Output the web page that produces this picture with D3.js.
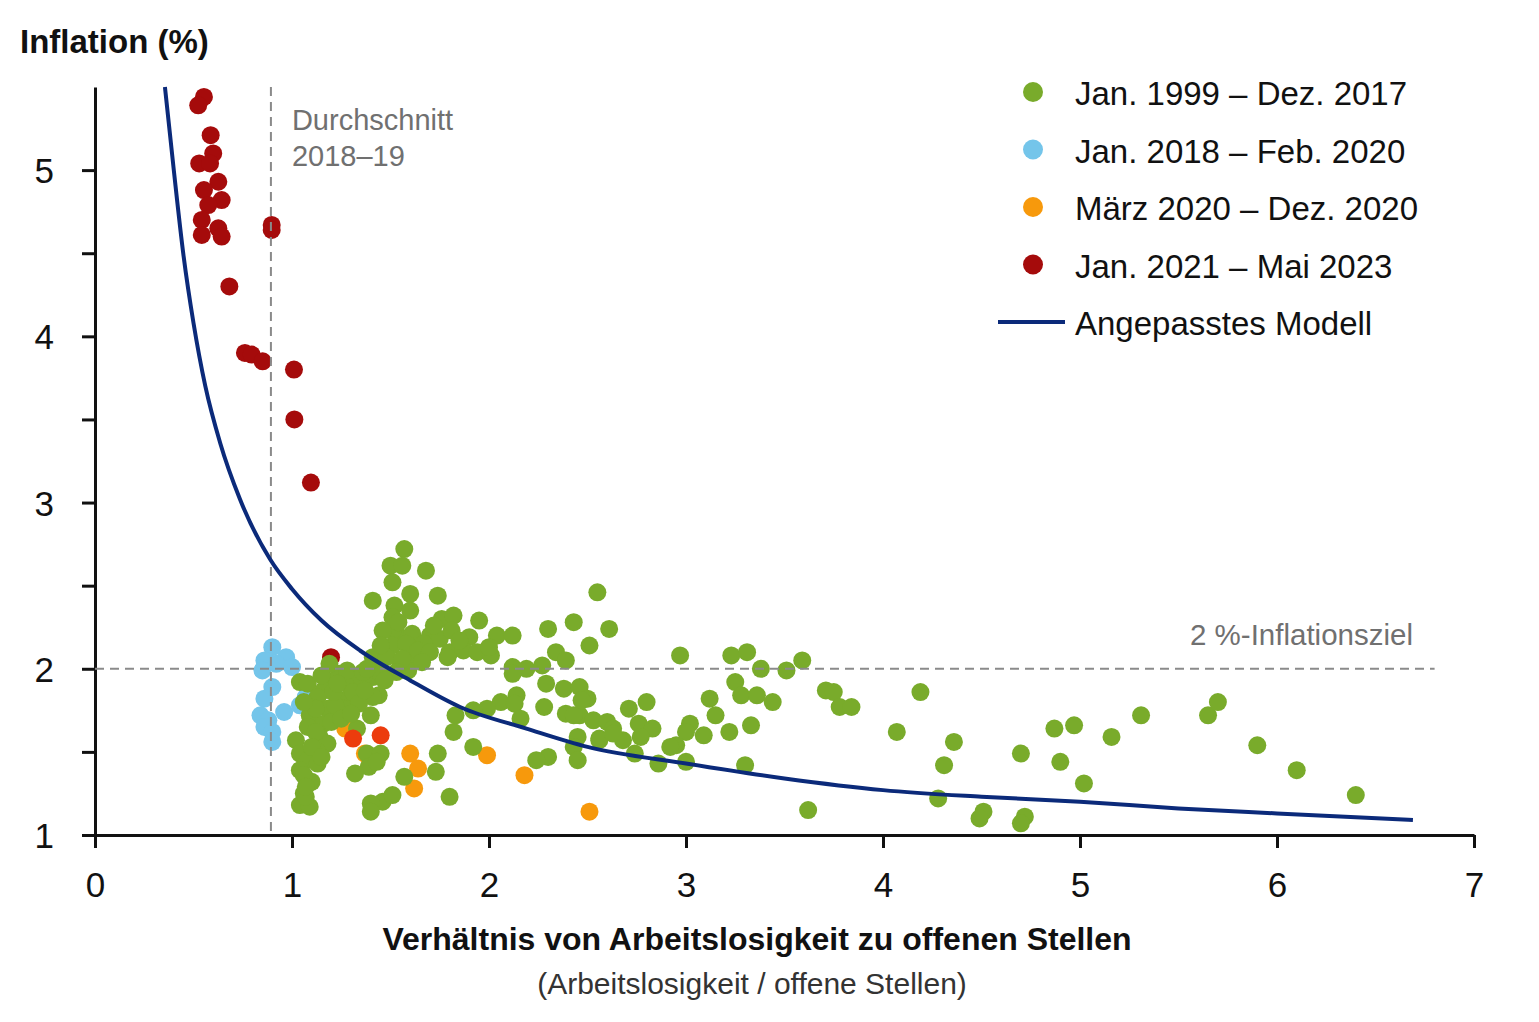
<!DOCTYPE html>
<head>
  <meta charset="utf-8">
  <script src="https://cdn.jsdelivr.net/npm/d3@7"></script>
</head>

<style>
    body {
      margin: 0;
      background: #ffffff;
    }
    text {
      font-family: "Liberation Sans", Arial, sans-serif;
    }
</style>
<body>

<script>

    // Jan. 1999 - Dez. 2017  [Verhaeltnis, Inflation]
    var punkteGruen = [
      [1.04,1.92],[1.08,1.91],[1.18,1.93],[1.16,1.87],[1.24,1.97],[1.29,1.90],[1.35,1.95],[1.41,1.95],
      [1.43,2.03],[1.44,1.84],[1.40,1.72],[1.28,1.82],[1.26,1.76],[1.13,1.83],[1.09,1.72],[1.18,1.76],
      [1.16,1.67],[1.08,1.65],[1.02,1.57],[1.14,1.59],[1.18,1.55],[1.04,1.49],[1.13,1.50],[1.08,1.45],
      [1.13,1.43],[1.04,1.39],[1.10,1.32],[1.06,1.25],[1.04,1.18],[1.09,1.17],[1.07,1.23],[1.33,1.64],
      [1.38,1.49],[1.45,1.49],[1.39,1.41],[1.32,1.37],[1.46,1.20],[1.51,1.24],[1.40,1.19],[1.40,1.14],
      [1.57,1.35],[1.74,1.49],[1.19,2.03],[1.28,1.99],[1.48,2.13],[1.55,2.19],[1.62,2.17],[1.41,2.07],
      [1.55,2.01],
      [1.57,2.72],[1.50,2.62],[1.56,2.62],[1.51,2.52],[1.68,2.59],[1.60,2.45],[1.74,2.44],[1.41,2.41],
      [1.52,2.38],[1.60,2.35],[1.51,2.31],[1.76,2.30],[1.82,2.32],[1.95,2.29],[1.51,2.23],[1.61,2.21],
      [1.70,2.20],[1.75,2.18],[1.81,2.23],[1.90,2.19],[2.04,2.20],[2.12,2.20],[1.51,2.14],[1.58,2.15],
      [1.67,2.15],[1.80,2.10],[1.87,2.11],[1.94,2.10],[2.01,2.08],[1.62,2.07],[1.79,2.07],[1.42,2.05],
      [1.48,2.07],[1.59,1.99],[1.45,1.97],
      [2.30,2.24],[2.43,2.28],[2.55,2.46],[2.61,2.24],[2.51,2.14],[2.34,2.10],[2.39,2.05],[2.12,2.01],
      [2.19,2.00],[2.27,2.02],[2.12,1.97],[2.29,1.91],[2.38,1.88],[2.46,1.89],[2.50,1.82],[2.14,1.84],
      [2.06,1.80],[2.13,1.79],[2.28,1.77],[2.39,1.73],[2.46,1.72],[2.53,1.69],[2.60,1.68],[2.16,1.70],
      [1.99,1.76],[1.92,1.75],[1.83,1.72],[1.41,1.83],
      [2.63,1.64],[2.71,1.76],[2.80,1.80],[2.76,1.67],[2.83,1.64],[2.77,1.59],[2.68,1.57],[2.56,1.58],
      [2.45,1.59],[2.43,1.53],[2.45,1.45],[2.30,1.47],[2.24,1.45],[1.82,1.62],[1.92,1.53],[1.73,1.38],
      [1.80,1.23],
      [2.97,2.08],[3.23,2.08],[3.31,2.10],[3.38,2.00],[3.51,1.99],[3.59,2.05],[3.25,1.92],[3.28,1.84],
      [3.36,1.84],[3.44,1.80],[3.71,1.87],[3.75,1.86],[3.78,1.77],[3.84,1.77],[4.19,1.86],[4.07,1.62],
      [4.36,1.56],[4.31,1.42],[4.28,1.22],[3.62,1.15],[3.12,1.82],[3.15,1.72],[3.22,1.62],[3.33,1.66],
      [3.30,1.42],[3.02,1.67],[3.09,1.60],[3.00,1.62],[2.95,1.54],[2.74,1.49],[2.86,1.43],[3.00,1.44],
      [2.92,1.53],[2.56,1.57],[2.43,1.72],[2.47,1.81],[2.63,1.61],
      [4.70,1.49],[4.87,1.64],[4.97,1.66],[4.90,1.44],[5.02,1.31],[5.16,1.59],[5.31,1.72],[5.65,1.72],
      [5.70,1.80],[5.90,1.54],[6.10,1.39],[6.40,1.24],[4.51,1.14],[4.49,1.10],[4.72,1.11],[4.70,1.07],
      [1.46,2.23],[1.45,2.14],[1.54,2.28],[1.64,2.11],[1.70,2.10],[1.72,2.26],[1.56,2.06],[1.53,1.98],
      [1.36,1.98],[1.31,1.86],[1.22,1.78],[1.20,1.68],[1.12,1.62],[1.21,1.86],[1.25,1.70],[1.34,1.79],
      [1.12,1.76],[1.06,1.80],[1.15,1.96],[1.23,1.91],[1.30,1.73],[1.37,1.87],[1.10,1.53],[1.15,1.47],
      [1.06,1.36],[1.07,1.29],[1.47,1.93],[1.38,2.00],[1.66,2.04],[1.85,2.17],[2.00,2.13],[1.43,1.44]
    ];

    // Jan. 2018 - Feb. 2020
    var punkteBlau = [
      [0.90,2.13],[0.86,2.05],[0.97,2.07],[1.00,2.01],[0.92,2.03],[0.85,1.99],[0.90,1.89],[0.86,1.82],
      [0.84,1.72],[0.88,1.69],[0.86,1.65],[0.90,1.62],[0.90,1.56],[0.96,1.74],[1.04,1.78],[1.07,1.83]
    ];

    // Maerz 2020 - Dez. 2020
    var punkteOrange = [
      [1.27,1.64],[1.60,1.49],[1.64,1.40],[1.62,1.28],[1.99,1.48],[2.18,1.36],[2.51,1.14],[1.37,1.49]
    ];

    // Jan. 2021 - Mai 2023
    var punkteRot = [
      [0.553,5.44],[0.524,5.39],[0.587,5.21],[0.600,5.10],[0.529,5.04],[0.584,5.04],[0.626,4.93],
      [0.553,4.88],[0.643,4.82],[0.575,4.79],[0.542,4.70],[0.626,4.65],[0.542,4.61],[0.643,4.60],
      [0.897,4.67],[0.897,4.64],[0.682,4.30],[0.761,3.90],[0.795,3.89],[0.851,3.85],[1.010,3.80],
      [1.012,3.50],[1.096,3.12],[1.198,2.07]
    ];

    // Uebergangspunkte (hellrot)
    var punkteHellrot = [[1.31,1.58],[1.45,1.60]];

    // Angepasstes Modell
    var modellKurve = [
      [0.355,5.5],[0.40,5.0],[0.45,4.48],[0.50,4.08],[0.56,3.70],[0.635,3.36],[0.736,3.02],[0.888,2.66],
      [1.0,2.48],[1.15,2.29],[1.345,2.11],[1.6,1.93],[1.853,1.77],[2.19,1.64],[2.5,1.53],[3.0,1.43],
      [3.5,1.34],[4.0,1.27],[4.5,1.23],[5.0,1.20],[5.5,1.16],[6.0,1.13],[6.69,1.09]
    ];

    var xTickWerte = [0, 1, 2, 3, 4, 5, 6, 7];
    var yTickWerte = [1, 1.5, 2, 2.5, 3, 3.5, 4, 4.5, 5];

    var durchschnitt = 0.893;
    var inflationsziel = 2;

    var legendeLabels = ["Jan. 1999 \u2013 Dez. 2017", "Jan. 2018 \u2013 Feb. 2020",
                         "M\u00e4rz 2020 \u2013 Dez. 2020", "Jan. 2021 \u2013 Mai 2023",
                         "Angepasstes Modell"];
    var legendeFarben = ["#79ab2b", "#74c5ea", "#f7990c", "#a50b0b", "#0b2a7a"];

    var width = 1539,
        height = 1022;

    var svg = d3.select("body").append("svg")
        .attr("width", width)
        .attr("height", height);

    var x = d3.scaleLinear().domain([0, 7]).range([95, 1474]);
    var y = d3.scaleLinear().domain([1, 5.5]).range([835, 87]);

    // Achsen
    var xAxis = svg.append("g")
        .attr("transform", "translate(0," + y(1) + ")")
        .call(d3.axisBottom(x).tickValues(xTickWerte).tickSize(13).tickSizeOuter(0).tickPadding(24)
          .tickFormat(d3.format("d")));

    var yAxis = svg.append("g")
        .attr("transform", "translate(" + x(0) + ",0)")
        .call(d3.axisLeft(y).tickValues(yTickWerte).tickSize(13).tickSizeOuter(0).tickPadding(28)
          .tickFormat(function(d) { return d % 1 === 0 ? d : ""; }));

    [xAxis, yAxis].forEach(function(a) {
      a.select(".domain").attr("stroke", "#111").attr("stroke-width", 3);
      a.selectAll(".tick line").attr("stroke", "#111").attr("stroke-width", 3);
      a.selectAll(".tick text")
        .attr("fill", "#111")
        .style("font-family", "'Liberation Sans', Arial, sans-serif")
        .style("font-size", "35px");
    });
    yAxis.selectAll(".tick text").attr("dy", "0.36em");

    // Punkte
    function punkte(daten, farbe) {
      svg.append("g").selectAll("circle")
          .data(daten)
        .enter().append("circle")
          .attr("cx", function(d) { return x(d[0]); })
          .attr("cy", function(d) { return y(d[1]); })
          .attr("r", 9)
          .attr("fill", farbe);
    }

    punkte(punkteBlau, legendeFarben[1]);
    punkte(punkteOrange, legendeFarben[2]);
    punkte(punkteRot, legendeFarben[3]);
    punkte(punkteGruen, legendeFarben[0]);
    punkte(punkteHellrot, "#ec3c0d");

    // Referenzlinien
    svg.append("line")
        .attr("x1", x(durchschnitt)).attr("x2", x(durchschnitt))
        .attr("y1", y(5.5)).attr("y2", y(1))
        .attr("stroke", "#8a8a8a").attr("stroke-width", 2)
        .attr("stroke-dasharray", "9,6");

    svg.append("line")
        .attr("x1", x(0)).attr("x2", x(6.8))
        .attr("y1", y(inflationsziel)).attr("y2", y(inflationsziel))
        .attr("stroke", "#8a8a8a").attr("stroke-width", 2)
        .attr("stroke-dasharray", "9,6");

    // Modellkurve
    var line = d3.line()
        .x(function(d) { return x(d[0]); })
        .y(function(d) { return y(d[1]); })
        .curve(d3.curveMonotoneX);

    svg.append("path")
        .datum(modellKurve)
        .attr("d", line)
        .attr("fill", "none")
        .attr("stroke", legendeFarben[4])
        .attr("stroke-width", 4);

    // Beschriftungen
    svg.append("text")
        .attr("x", 20).attr("y", 53)
        .style("font-size", "33px").style("font-weight", "bold")
        .attr("fill", "#111")
        .text("Inflation (%)");

    svg.append("text")
        .attr("x", x(durchschnitt) + 21).attr("y", 130)
        .style("font-size", "29px").attr("fill", "#707070")
        .text("Durchschnitt");
    svg.append("text")
        .attr("x", x(durchschnitt) + 21).attr("y", 166)
        .style("font-size", "29px").attr("fill", "#707070")
        .text("2018\u201319");

    svg.append("text")
        .attr("x", 1413).attr("y", 645)
        .attr("text-anchor", "end")
        .style("font-size", "29.5px").attr("fill", "#707070")
        .text("2 %-Inflationsziel");

    svg.append("text")
        .attr("x", 757).attr("y", 950)
        .attr("text-anchor", "middle")
        .style("font-size", "32px").style("font-weight", "bold")
        .attr("fill", "#111")
        .text("Verh\u00e4ltnis von Arbeitslosigkeit zu offenen Stellen");

    svg.append("text")
        .attr("x", 752).attr("y", 994)
        .attr("text-anchor", "middle")
        .style("font-size", "30px")
        .attr("fill", "#333")
        .text("(Arbeitslosigkeit / offene Stellen)");

    // Legende
    var legende = svg.selectAll(".legende")
        .data(legendeLabels)
      .enter().append("g")
        .attr("class", "legende")
        .attr("transform", function(d, i) { return "translate(0," + (92 + i * 57.5) + ")"; });

    legende.filter(function(d, i) { return i < 4; })
      .append("circle")
        .attr("cx", 1033)
        .attr("r", 10)
        .attr("fill", function(d, i) { return legendeFarben[i]; });

    legende.filter(function(d, i) { return i === 4; })
      .append("line")
        .attr("x1", 998).attr("x2", 1065)
        .attr("stroke", legendeFarben[4])
        .attr("stroke-width", 4);

    legende.append("text")
        .attr("x", 1075)
        .attr("y", 13)
        .style("font-size", "33px")
        .attr("fill", "#111")
        .text(function(d) { return d; });

</script>
</body>
